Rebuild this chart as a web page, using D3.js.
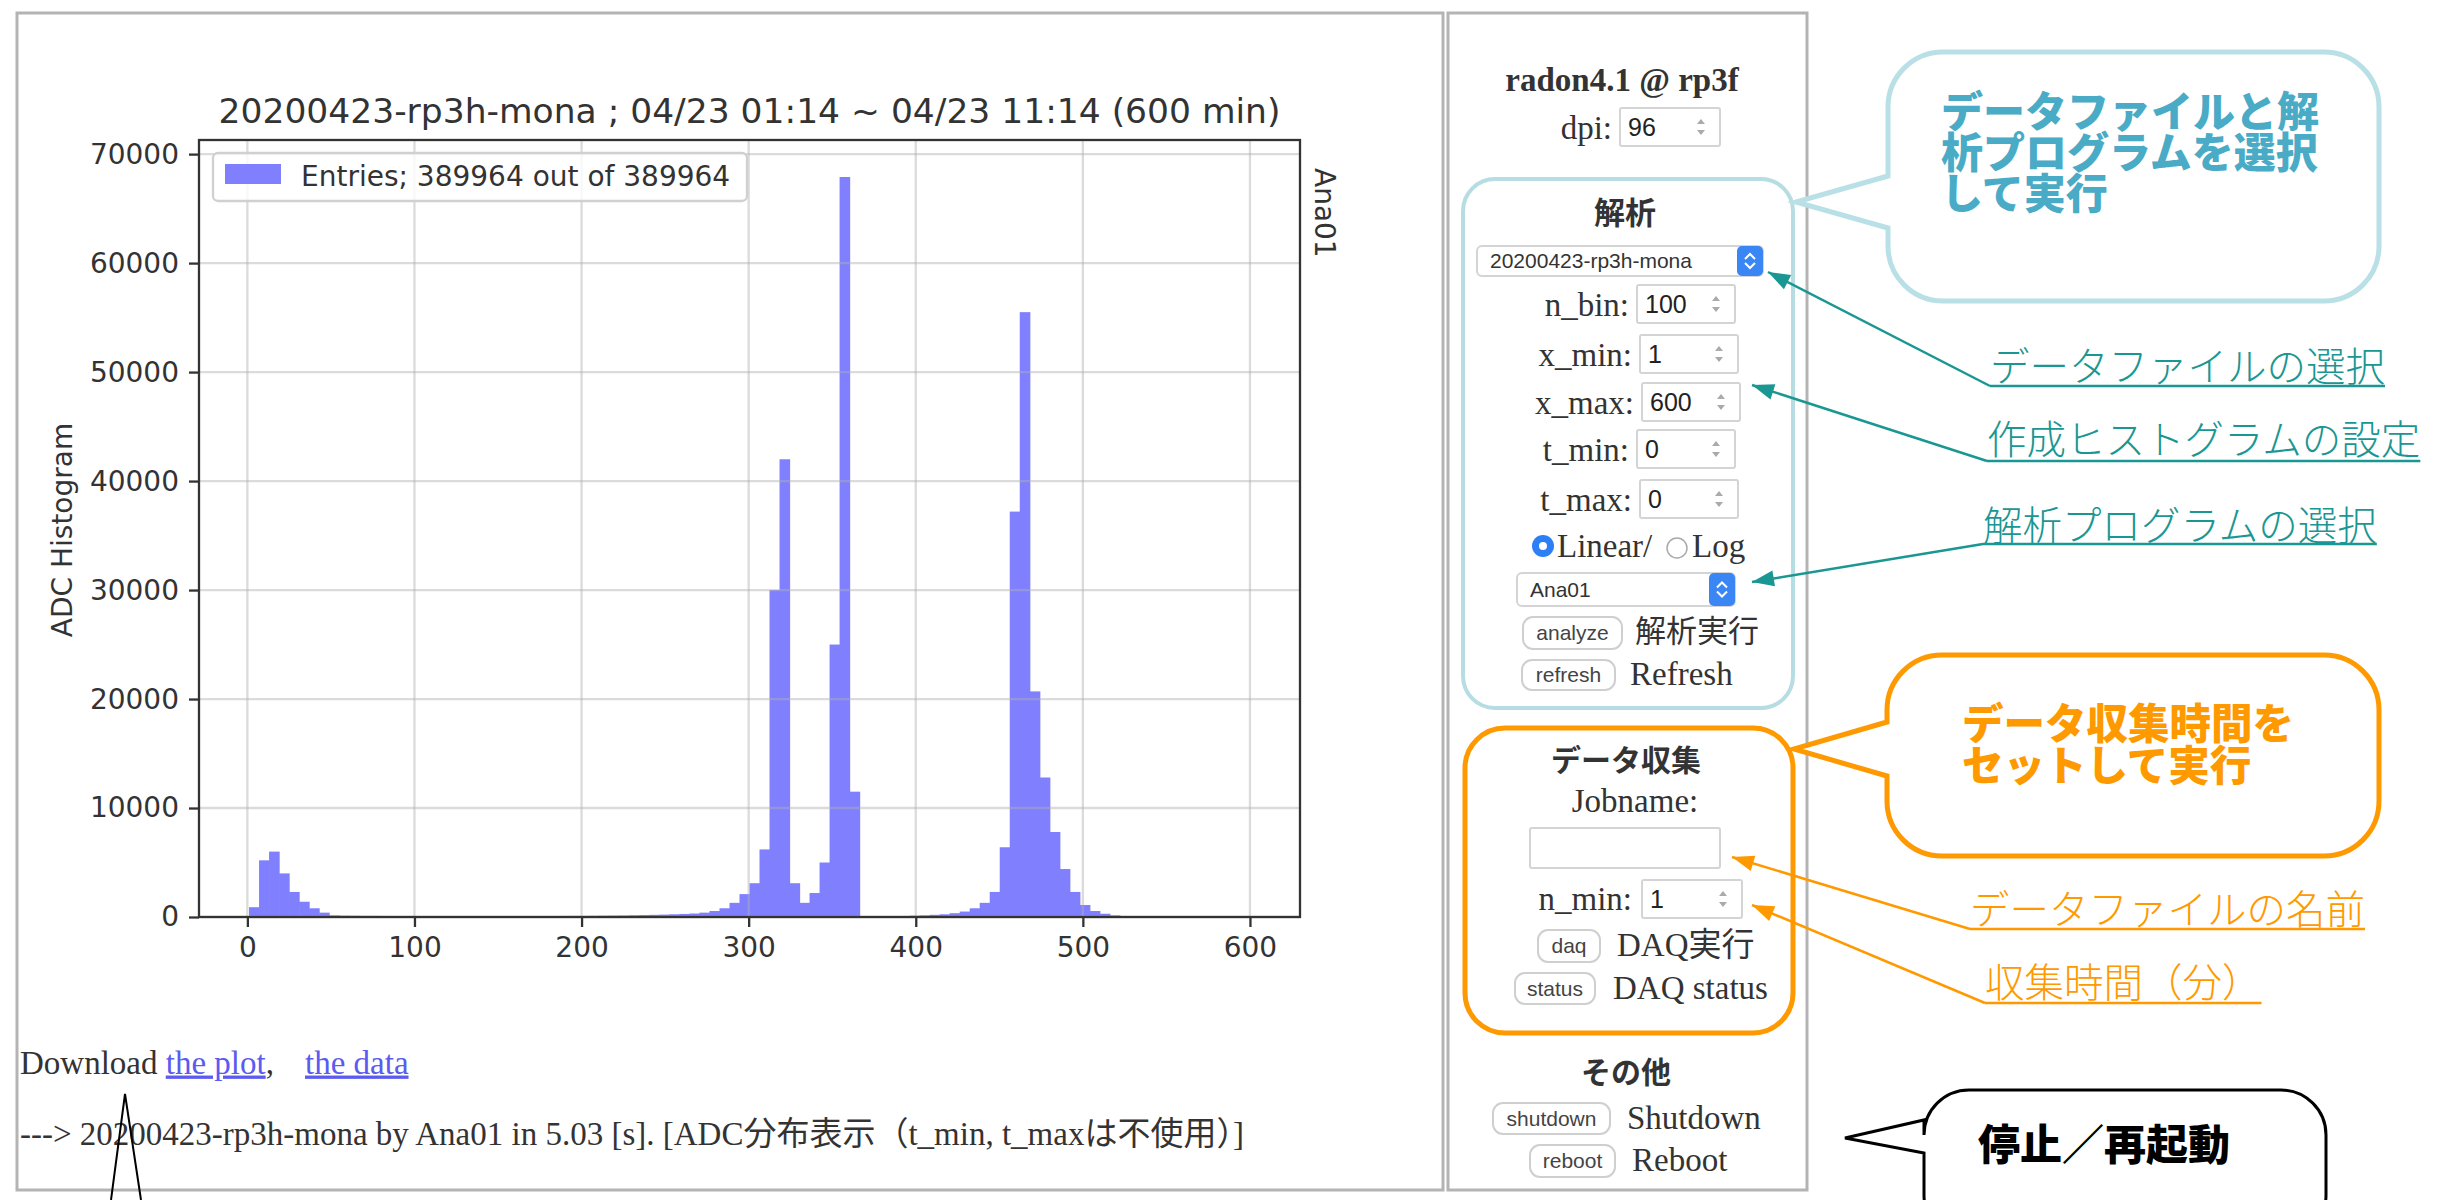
<!DOCTYPE html>
<html>
<head>
<meta charset="utf-8">
<script src="https://cdn.jsdelivr.net/npm/d3@7"></script>
<style>
  body { margin: 0; background: #fff; }
  svg { display: block; }
</style>
</head>
<body>
<svg id="page" width="2447" height="1200"></svg>
<script>
// --- histogram data ---
const nBin = 100, xMin = 1, xMax = 600;
const binCounts = [
  900, 5200, 6000, 4000, 2300, 1400, 800, 400, 150, 120,
  110, 100, 100, 95, 90, 90, 85, 85, 80, 80,
  80, 80, 80, 75, 75, 80, 80, 85, 85, 90,
  90, 95, 100, 100, 110, 120, 130, 140, 160, 180,
  200, 220, 250, 280, 320, 400, 550, 800, 1300, 2100,
  3100, 6200, 30000, 42000, 3100, 1300, 2200, 5000, 25000, 67900,
  11500, 0, 0, 0, 0, 0, 120, 150, 200, 250,
  350, 500, 800, 1300, 2300, 6400, 37200, 55500, 20700, 12800,
  7800, 4400, 2300, 1100, 550, 300, 150, 0, 0, 0,
  0, 0, 0, 0, 0, 0, 0, 0, 0, 0
];
const xTicks = [0, 100, 200, 300, 400, 500, 600];
const yTicks = [0, 10000, 20000, 30000, 40000, 50000, 60000, 70000];
const chartTitle = "20200423-rp3h-mona ; 04/23 01:14 ~ 04/23 11:14 (600 min)";
const legendLabel = "Entries; 389964 out of 389964";
const yLabel = "ADC Histogram";
const anaLabel = "Ana01";

// --- page texts ---
const paramLabels = ["n_bin:", "x_min:", "x_max:", "t_min:", "t_max:"];
const paramValues = ["100", "1", "600", "0", "0"];
const tealBubble = ["データファイルと解", "析プログラムを選択", "して実行"];
const orangeBubble = ["データ収集時間を", "セットして実行"];
const tealNotes = ["データファイルの選択", "作成ヒストグラムの設定", "解析プログラムの選択"];
const orangeNotes = ["データファイルの名前", "収集時間（分）"];

const svg = d3.select("#page");
const SERIF = "'Liberation Serif', 'Times New Roman', 'Noto Sans CJK JP', serif";
const SANS = "'Liberation Sans', Arial, sans-serif";
const CJK = "'Noto Sans CJK JP', sans-serif";
const PLOT = "'DejaVu Sans', sans-serif";

svg.append("rect").attr("width", 2447).attr("height", 1200).attr("fill", "#fff");

// page frames
svg.append("rect").attr("x", 17).attr("y", 13).attr("width", 1426).attr("height", 1177)
  .attr("fill", "none").attr("stroke", "#b4b4b4").attr("stroke-width", 3);
svg.append("rect").attr("x", 1448).attr("y", 13).attr("width", 359).attr("height", 1177)
  .attr("fill", "none").attr("stroke", "#b4b4b4").attr("stroke-width", 3);

// ================= chart =================
const plot = { left: 199, right: 1300, top: 140, bottom: 917 };
const pad = 0.05 * (xMax - xMin);
const x = d3.scaleLinear().domain([xMin - pad, xMax + pad]).range([plot.left, plot.right]);
const y = d3.scaleLinear().domain([0, d3.max(binCounts) * 1.05]).range([plot.bottom, plot.top]);
const binEdges = d3.range(nBin + 1).map(i => xMin + i * (xMax - xMin) / nBin);
const bins = binCounts.map((c, i) => ({ x0: binEdges[i], x1: binEdges[i + 1], count: c }));

const chart = svg.append("g");

// bars
chart.append("g").selectAll("rect")
  .data(bins.filter(d => d.count > 0))
  .enter().append("rect")
  .attr("x", d => x(d.x0))
  .attr("width", d => x(d.x1) - x(d.x0) + 0.6)
  .attr("y", d => y(d.count))
  .attr("height", d => plot.bottom - y(d.count))
  .attr("fill", "#8080ff");

// grid
chart.append("g").selectAll("line").data(xTicks).enter().append("line")
  .attr("x1", d => x(d)).attr("x2", d => x(d))
  .attr("y1", plot.top).attr("y2", plot.bottom)
  .attr("stroke", "#b0b0b0").attr("stroke-opacity", 0.45).attr("stroke-width", 2.3);
chart.append("g").selectAll("line").data(yTicks).enter().append("line")
  .attr("x1", plot.left).attr("x2", plot.right)
  .attr("y1", d => y(d)).attr("y2", d => y(d))
  .attr("stroke", "#b0b0b0").attr("stroke-opacity", 0.45).attr("stroke-width", 2.3);

// axes
const styleAxis = g => {
  g.select(".domain").remove();
  g.selectAll(".tick line").attr("stroke", "#333").attr("stroke-width", 2.3);
  g.selectAll(".tick text").attr("fill", "#333")
    .style("font-family", PLOT).style("font-size", "28px");
};
chart.append("g")
  .attr("transform", `translate(0, ${plot.bottom})`)
  .call(d3.axisBottom(x).tickValues(xTicks).tickSize(10).tickPadding(10).tickFormat(d3.format("d")))
  .call(styleAxis);
chart.append("g")
  .attr("transform", `translate(${plot.left}, 0)`)
  .call(d3.axisLeft(y).tickValues(yTicks).tickSize(10).tickPadding(10).tickFormat(d3.format("d")))
  .call(styleAxis);

// spines
chart.append("rect")
  .attr("x", plot.left).attr("y", plot.top)
  .attr("width", plot.right - plot.left).attr("height", plot.bottom - plot.top)
  .attr("fill", "none").attr("stroke", "#333").attr("stroke-width", 2.3);

// legend
chart.append("rect").attr("x", 213).attr("y", 153).attr("width", 534).attr("height", 48)
  .attr("rx", 5).attr("fill", "#fff").attr("fill-opacity", 0.8)
  .attr("stroke", "#d0d0d0").attr("stroke-width", 2.3);
chart.append("rect").attr("x", 225).attr("y", 164).attr("width", 56).attr("height", 20)
  .attr("fill", "#8080ff");
chart.append("text").text(legendLabel)
  .attr("x", 301).attr("y", 176).attr("dy", "0.35em")
  .style("font-family", PLOT).style("font-size", "28px").attr("fill", "#333");

// title and labels
chart.append("text").text(chartTitle)
  .attr("x", (plot.left + plot.right) / 2).attr("y", 123)
  .style("font-family", PLOT).style("font-size", "34.5px").style("text-anchor", "middle").attr("fill", "#333");
chart.append("text").text(yLabel)
  .attr("transform", "translate(62, 530) rotate(-90)")
  .attr("dy", "0.35em")
  .style("font-family", PLOT).style("font-size", "28px").style("text-anchor", "middle").attr("fill", "#333");
chart.append("text").text(anaLabel)
  .attr("transform", "translate(1325, 168) rotate(90)")
  .attr("dy", "0.35em")
  .style("font-family", PLOT).style("font-size", "28px").attr("fill", "#333");

// download lines
const dl = svg.append("text").attr("x", 20).attr("y", 1062).attr("dy", "0.35em")
  .style("font-family", SERIF).style("font-size", "33px").attr("fill", "#333");
dl.append("tspan").text("Download ");
dl.append("tspan").text("the plot").attr("fill", "#5b5bf0").style("text-decoration", "underline");
dl.append("tspan").text(",");
dl.append("tspan").attr("x", 305).text("the data").attr("fill", "#5b5bf0").style("text-decoration", "underline");

svg.append("text").text("---> 20200423-rp3h-mona by Ana01 in 5.03 [s]. [ADC分布表示（t_min, t_maxは不使用）]")
  .attr("x", 20).attr("y", 1133).attr("dy", "0.35em")
  .style("font-family", SERIF).style("font-size", "33px").attr("fill", "#333");

// black pointer from below
svg.append("path").attr("d", "M111,1200 L125,1094 L141,1200")
  .attr("fill", "none").attr("stroke", "#000").attr("stroke-width", 2);

// ================= right panel =================
const panel = svg.append("g");
const ptext = (s, px, py, opt = {}) => panel.append("text").text(s)
  .attr("x", px).attr("y", py).attr("dy", "0.35em")
  .style("font-family", opt.font || SERIF).style("font-size", (opt.size || 33) + "px")
  .style("font-weight", opt.bold ? "bold" : "normal")
  .style("text-anchor", opt.anchor || "start")
  .attr("fill", opt.color || "#333");

const spinner = (sx, cy) => {
  panel.append("path").attr("d", `M${sx - 4},${cy - 3} L${sx},${cy - 8} L${sx + 4},${cy - 3} Z`).attr("fill", "#aaa");
  panel.append("path").attr("d", `M${sx - 4},${cy + 3} L${sx},${cy + 8} L${sx + 4},${cy + 3} Z`).attr("fill", "#aaa");
};
const inputBox = (bx, by, w, h, val, spin) => {
  panel.append("rect").attr("x", bx).attr("y", by).attr("width", w).attr("height", h)
    .attr("fill", "#fff").attr("stroke", "#d4d4d4").attr("stroke-width", 2).attr("rx", 2);
  if (val) ptext(val, bx + 8, by + h / 2, { font: SANS, size: 25, color: "#222" });
  if (spin) spinner(bx + w - 19, by + h / 2);
};
const selectBox = (bx, by, w, h, val) => {
  panel.append("rect").attr("x", bx).attr("y", by).attr("width", w).attr("height", h)
    .attr("fill", "#fff").attr("stroke", "#d4d4d4").attr("stroke-width", 2).attr("rx", 5);
  panel.append("rect").attr("x", bx + w - 26).attr("y", by).attr("width", 26).attr("height", h)
    .attr("fill", "#3a86f5").attr("rx", 5);
  const cx = bx + w - 13, cy = by + h / 2;
  panel.append("path").attr("d", `M${cx - 5},${cy - 2} L${cx},${cy - 7} L${cx + 5},${cy - 2} M${cx - 5},${cy + 2} L${cx},${cy + 7} L${cx + 5},${cy + 2}`)
    .attr("fill", "none").attr("stroke", "#fff").attr("stroke-width", 2);
  ptext(val, bx + 13, cy, { font: SANS, size: 21, color: "#333" });
};
const button = (bx, by, w, h, label) => {
  panel.append("rect").attr("x", bx).attr("y", by).attr("width", w).attr("height", h)
    .attr("rx", 10).attr("fill", "#fff").attr("stroke", "#cfcfcf").attr("stroke-width", 2);
  ptext(label, bx + w / 2, by + h / 2, { font: SANS, size: 21, color: "#444", anchor: "middle" });
};

ptext("radon4.1 @ rp3f", 1622, 79, { bold: true, anchor: "middle" });
ptext("dpi:", 1612, 127, { anchor: "end" });
inputBox(1620, 108, 100, 38, "96", true);

// analysis box
panel.append("rect").attr("x", 1463).attr("y", 179).attr("width", 330).attr("height", 529)
  .attr("rx", 32).attr("fill", "none").attr("stroke", "#b5dde2").attr("stroke-width", 4);
ptext("解析", 1625, 213, { font: CJK, bold: true, anchor: "middle", size: 31 });
selectBox(1477, 246, 286, 30, "20200423-rp3h-mona");

const paramRows = [
  { y: 285, bx: 1637 }, { y: 335, bx: 1640 }, { y: 383, bx: 1642 },
  { y: 430, bx: 1637 }, { y: 480, bx: 1640 }
];
paramLabels.forEach((lab, i) => {
  const r = paramRows[i];
  ptext(lab, r.bx - 8, r.y + 19, { anchor: "end" });
  inputBox(r.bx, r.y, 98, 38, paramValues[i], true);
});

// radio
panel.append("circle").attr("cx", 1543).attr("cy", 546).attr("r", 11).attr("fill", "#2d7ff6");
panel.append("circle").attr("cx", 1543).attr("cy", 546).attr("r", 4).attr("fill", "#fff");
ptext("Linear/", 1557, 545);
panel.append("circle").attr("cx", 1677).attr("cy", 548).attr("r", 10).attr("fill", "#fff")
  .attr("stroke", "#aaa").attr("stroke-width", 1.5);
ptext("Log", 1692, 545);

selectBox(1517, 573, 218, 33, "Ana01");
button(1523, 617, 99, 32, "analyze");
ptext("解析実行", 1635, 631, { font: CJK, size: 31 });
button(1522, 660, 93, 30, "refresh");
ptext("Refresh", 1630, 673);

// DAQ box
panel.append("rect").attr("x", 1465).attr("y", 728).attr("width", 328).attr("height", 305)
  .attr("rx", 40).attr("fill", "none").attr("stroke", "#ff9900").attr("stroke-width", 5);
ptext("データ収集", 1626, 760, { font: CJK, bold: true, anchor: "middle", size: 30 });
ptext("Jobname:", 1635, 800, { anchor: "middle" });
inputBox(1530, 828, 190, 40, "", false);
ptext("n_min:", 1632, 898, { anchor: "end" });
inputBox(1642, 880, 100, 38, "1", true);
button(1538, 930, 62, 32, "daq");
ptext("DAQ実行", 1617, 944);
button(1515, 973, 80, 31, "status");
ptext("DAQ status", 1613, 987);

ptext("その他", 1626, 1072, { font: CJK, bold: true, anchor: "middle", size: 30 });
button(1493, 1103, 117, 31, "shutdown");
ptext("Shutdown", 1627, 1117);
button(1530, 1145, 85, 32, "reboot");
ptext("Reboot", 1632, 1159);

// ================= callouts =================
const notes = svg.append("g");
const bubblePath = (x0, y0, x1, y1, r, ya, yb, tx, ty) =>
  `M${x0 + r},${y0} H${x1 - r} A${r},${r} 0 0 1 ${x1},${y0 + r} V${y1 - r} ` +
  `A${r},${r} 0 0 1 ${x1 - r},${y1} H${x0 + r} A${r},${r} 0 0 1 ${x0},${y1 - r} ` +
  `V${yb} L${tx},${ty} L${x0},${ya} V${y0 + r} A${r},${r} 0 0 1 ${x0 + r},${y0} Z`;

const ntext = (s, px, py, size, color, weight) => notes.append("text").text(s)
  .attr("x", px).attr("y", py).attr("dy", "0.35em")
  .style("font-family", CJK).style("font-size", size + "px").style("font-weight", weight)
  .attr("fill", color);

// multi-line bubble text as one text element with tspans
const blockText = (lines, px, py, step, size, color) => {
  const t = notes.append("text")
    .style("font-family", CJK).style("font-size", size + "px").style("font-weight", 900)
    .attr("fill", color);
  lines.forEach((s, i) => t.append("tspan").text(s)
    .attr("x", px).attr("y", py + i * step).attr("dy", "0.35em"));
};

const leader = (x1, y1, x2, y2, color) => {
  notes.append("line").attr("x1", x1).attr("y1", y1).attr("x2", x2).attr("y2", y2)
    .attr("stroke", color).attr("stroke-width", 2.5);
  const a = Math.atan2(y2 - y1, x2 - x1), L = 22, W = 8;
  const bx = x2 - L * Math.cos(a), by = y2 - L * Math.sin(a);
  notes.append("path")
    .attr("d", `M${x2},${y2} L${bx + W * Math.sin(a)},${by - W * Math.cos(a)} L${bx - W * Math.sin(a)},${by + W * Math.cos(a)} Z`)
    .attr("fill", color);
};

// teal bubble
notes.append("path").attr("d", bubblePath(1888, 52, 2379, 301, 55, 176, 228, 1796, 202))
  .attr("fill", "#fff").attr("stroke", "#b9e0e6").attr("stroke-width", 5);
blockText(tealBubble, 1941, 112, 41, 42, "#4aabc6");

const TEAL = "#1a9693";
const tealRows = [
  { x: 1990, y: 367, u: 386, tx: 1768, ty: 272 },
  { x: 1987, y: 440, u: 461, tx: 1752, ty: 385 },
  { x: 1983, y: 526, u: 544, tx: 1752, ty: 582 }
];
tealNotes.forEach((s, i) => {
  const r = tealRows[i];
  const t = ntext(s, r.x, r.y, 39.5, TEAL, 300);
  const w = t.node().getComputedTextLength();
  notes.append("line").attr("x1", r.x).attr("x2", r.x + w).attr("y1", r.u).attr("y2", r.u)
    .attr("stroke", TEAL).attr("stroke-width", 2.5);
  leader(r.x, r.u, r.tx, r.ty, TEAL);
});

// orange bubble
const ORANGE = "#ff9900";
notes.append("path").attr("d", bubblePath(1887, 655, 2379, 856, 55, 722, 776, 1794, 749))
  .attr("fill", "#fff").attr("stroke", ORANGE).attr("stroke-width", 5);
blockText(orangeBubble, 1962, 724, 42, 41.5, ORANGE);

const orangeRows = [
  { x: 1970, y: 910, u: 929, tx: 1732, ty: 857 },
  { x: 1985, y: 983, u: 1003, tx: 1752, ty: 905 }
];
orangeNotes.forEach((s, i) => {
  const r = orangeRows[i];
  const t = ntext(s, r.x, r.y, 39.5, ORANGE, 300);
  const w = t.node().getComputedTextLength();
  notes.append("line").attr("x1", r.x).attr("x2", r.x + w).attr("y1", r.u).attr("y2", r.u)
    .attr("stroke", ORANGE).attr("stroke-width", 2.5);
  leader(r.x, r.u, r.tx, r.ty, ORANGE);
});

// black bubble
notes.append("path").attr("d", bubblePath(1924, 1090, 2326, 1240, 45, 1120, 1153, 1845, 1138))
  .attr("fill", "#fff").attr("stroke", "#000").attr("stroke-width", 3);
ntext("停止／再起動", 1978, 1145, 42, "#000", 900);
</script>
</body>
</html>
